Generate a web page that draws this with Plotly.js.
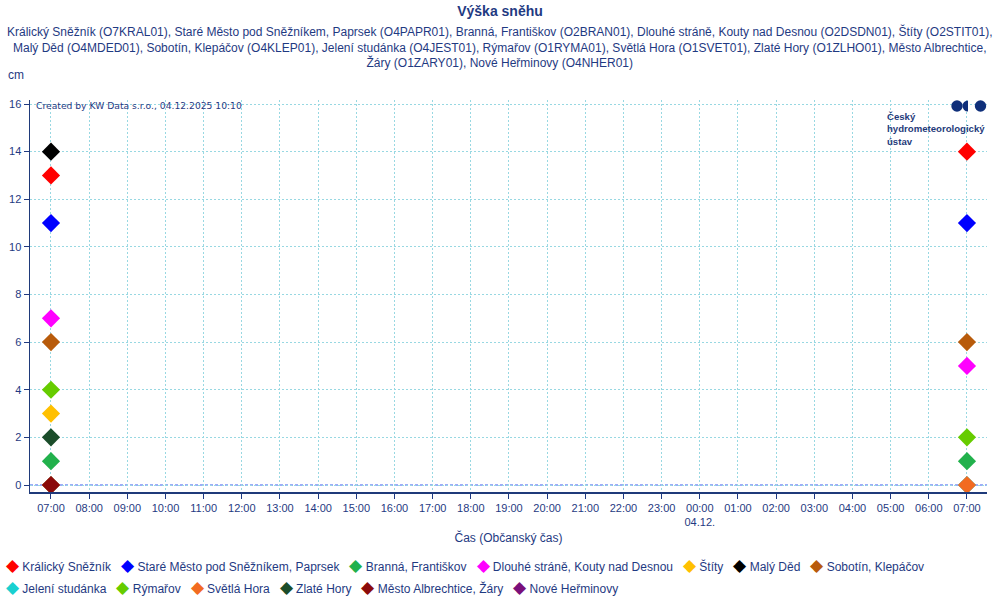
<!DOCTYPE html>
<html>
<head>
<meta charset="utf-8">
<script src="https://cdn.plot.ly/plotly-3.0.1.min.js"></script>
<style>html,body{margin:0;padding:0;background:#fff;}#chart{width:1000px;height:600px;}</style>
</head>
<body>
<div id="chart"></div>
<script>
// ---- data ----
const times = ["2025-12-03 07:00", "2025-12-04 07:00"];
const stationNames = ["Králický Sněžník", "Staré Město pod Sněžníkem, Paprsek", "Branná, Františkov",
  "Dlouhé stráně, Kouty nad Desnou", "Štíty", "Malý Děd", "Sobotín, Klepáčov",
  "Jelení studánka", "Rýmařov", "Světlá Hora", "Zlaté Hory", "Město Albrechtice, Žáry", "Nové Heřminovy"];
const stationColors = ["#ff0000", "#0000ff", "#22b14c", "#ff00ff", "#ffc000", "#000000", "#b85b0b",
  "#19d0d0", "#66cc00", "#f26b21", "#1b4d2a", "#8b0a0a", "#7a0f7a"];
const kralickySneznik = [13, 14];
const stareMesto = [11, 11];
const branna = [1, 1];
const dlouheStrane = [7, 5];
const stity = [3, null];
const malyDed = [14, null];
const sobotin = [6, 6];
const jeleniStudanka = [0, 0];
const rymarov = [4, 2];
const svetlaHora = [0, 0];
const zlateHory = [2, null];
const mestoAlbrechtice = [0, null];
const noveHerminovy = [null, null];
const seriesValues = [kralickySneznik, stareMesto, branna, dlouheStrane, stity, malyDed, sobotin,
  jeleniStudanka, rymarov, svetlaHora, zlateHory, mestoAlbrechtice, noveHerminovy];

const tickTimes = ["2025-12-03 07:00","2025-12-03 08:00","2025-12-03 09:00","2025-12-03 10:00","2025-12-03 11:00",
  "2025-12-03 12:00","2025-12-03 13:00","2025-12-03 14:00","2025-12-03 15:00","2025-12-03 16:00","2025-12-03 17:00",
  "2025-12-03 18:00","2025-12-03 19:00","2025-12-03 20:00","2025-12-03 21:00","2025-12-03 22:00","2025-12-03 23:00",
  "2025-12-04 00:00","2025-12-04 01:00","2025-12-04 02:00","2025-12-04 03:00","2025-12-04 04:00","2025-12-04 05:00",
  "2025-12-04 06:00","2025-12-04 07:00"];
const tickLabels = ["07:00","08:00","09:00","10:00","11:00","12:00","13:00","14:00","15:00","16:00","17:00",
  "18:00","19:00","20:00","21:00","22:00","23:00","00:00<br>04.12.","01:00","02:00","03:00","04:00","05:00",
  "06:00","07:00"];
const yTicks = [0, 2, 4, 6, 8, 10, 12, 14, 16];

const subtitleLines = [
  "Králický Sněžník (O7KRAL01), Staré Město pod Sněžníkem, Paprsek (O4PAPR01), Branná, Františkov (O2BRAN01), Dlouhé stráně, Kouty nad Desnou (O2DSDN01), Štíty (O2STIT01),",
  "Malý Děd (O4MDED01), Sobotín, Klepáčov (O4KLEP01), Jelení studánka (O4JEST01), Rýmařov (O1RYMA01), Světlá Hora (O1SVET01), Zlaté Hory (O1ZLHO01), Město Albrechtice,",
  "Žáry (O1ZARY01), Nové Heřminovy (O4NHER01)"
];

// ---- chart ----
const TXT = "#1f3a82";
const FONT = "Liberation Sans, Arial, sans-serif";

const traces = seriesValues.map((vals, i) => ({
  type: "scatter", mode: "markers", name: stationNames[i],
  x: times, y: vals,
  marker: {symbol: "diamond", size: 14, color: stationColors[i], line: {width: 0}},
  showlegend: false
}));

function legendRow(idx) {
  return idx.map(i => `<span style="color:${stationColors[i]};font-size:17px">◆</span> ${stationNames[i]}`)
    .join("&nbsp;&nbsp;&nbsp;");
}

const logoSvg = '<svg xmlns="http://www.w3.org/2000/svg" width="36" height="12" viewBox="0 0 36 12">' +
  '<circle cx="6" cy="6" r="5.7" fill="#0f2f7a"/>' +
  '<path d="M17 0.5 A5.5 5.5 0 0 0 17 11.5 Z" fill="#0f2f7a"/>' +
  '<circle cx="29.5" cy="6" r="5.7" fill="#0f2f7a"/></svg>';

const GRID = "#98d8e2";

const layout = {
  width: 1000, height: 600,
  margin: {l: 30, r: 13, t: 100, b: 108},
  paper_bgcolor: "#fff", plot_bgcolor: "#fff",
  font: {family: FONT, color: TXT, size: 11},
  title: {text: "<b>Výška sněhu</b>", x: 0.5, xanchor: "center", y: 1 - 11/600, yanchor: "middle",
    font: {family: FONT, size: 14, color: TXT}},
  showlegend: false,
  xaxis: {
    type: "date",
    range: ["2025-12-03 06:27", "2025-12-04 07:31:30"],
    tickmode: "array", tickvals: tickTimes, ticktext: tickLabels,
    ticks: "outside", ticklen: 5, tickcolor: TXT,
    tickfont: {family: FONT, size: 11, color: TXT},
    showgrid: true, gridcolor: GRID, griddash: "2px,2px", gridwidth: 1,
    showline: true, linecolor: "#1f3a7a", linewidth: 1.5,
    zeroline: false,
    title: {text: "Čas (Občanský čas)", font: {family: FONT, size: 12, color: TXT}, standoff: 6},
    automargin: false, fixedrange: true
  },
  yaxis: {
    range: [-0.294, 16.168],
    tickmode: "array", tickvals: yTicks,
    ticks: "outside", ticklen: 5, tickcolor: TXT,
    tickfont: {family: FONT, size: 11, color: TXT},
    showgrid: true, gridcolor: GRID, griddash: "2px,2px", gridwidth: 1,
    showline: true, linecolor: "#1f3a7a", linewidth: 1.5,
    zeroline: false, automargin: false, fixedrange: true
  },
  shapes: [
    {type: "line", xref: "paper", x0: 0, x1: 1, yref: "y", y0: 0, y1: 0,
     line: {color: "#3a5cf0", width: 1, dash: "3px,2px"}, layer: "below"}
  ],
  images: [
    {source: "data:image/svg+xml;utf8," + encodeURIComponent(logoSvg),
     xref: "paper", yref: "paper", x: (951 - 30) / 957, y: 1.0, sizex: 36 / 957, sizey: 12 / 392,
     xanchor: "left", yanchor: "top", sizing: "stretch", layer: "above"}
  ],
  annotations: [
    {text: subtitleLines.join("<br>"), xref: "paper", yref: "paper", x: (500 - 30) / 957, y: (492 - 22) / 392,
     xanchor: "center", yanchor: "top", showarrow: false, align: "center",
     font: {family: FONT, size: 12, color: TXT}},
    {text: "cm", xref: "paper", yref: "paper", x: (16 - 30) / 957, y: (492 - 75) / 392,
     xanchor: "center", yanchor: "middle", showarrow: false, font: {family: FONT, size: 12, color: TXT}},
    {text: "Created by KW Data s.r.o., 04.12.2025 10:10", xref: "paper", yref: "paper",
     x: (34 - 30) / 957, y: (492 - 106) / 392, xanchor: "left", yanchor: "middle", showarrow: false,
     font: {family: "DejaVu Sans, Verdana, sans-serif", size: 9.2, color: TXT}},
    {text: "<b>Český<br>hydrometeorologický<br>ústav</b>", xref: "paper", yref: "paper",
     x: (885 - 30) / 957, y: (492 - 109) / 392, xanchor: "left", yanchor: "top", showarrow: false, align: "left",
     font: {family: FONT, size: 9.6, color: "#1f3a7a"}},
    {text: legendRow([0, 1, 2, 3, 4, 5, 6]), xref: "paper", yref: "paper", x: (4 - 30) / 957, y: (492 - 565) / 392,
     xanchor: "left", yanchor: "middle", showarrow: false, align: "left", font: {family: FONT, size: 12, color: TXT}},
    {text: legendRow([7, 8, 9, 10, 11, 12]), xref: "paper", yref: "paper", x: (4 - 30) / 957, y: (492 - 587) / 392,
     xanchor: "left", yanchor: "middle", showarrow: false, align: "left", font: {family: FONT, size: 12, color: TXT}}
  ]
};

Plotly.newPlot("chart", traces, layout, {staticPlot: true, displayModeBar: false});
</script>
</body>
</html>
